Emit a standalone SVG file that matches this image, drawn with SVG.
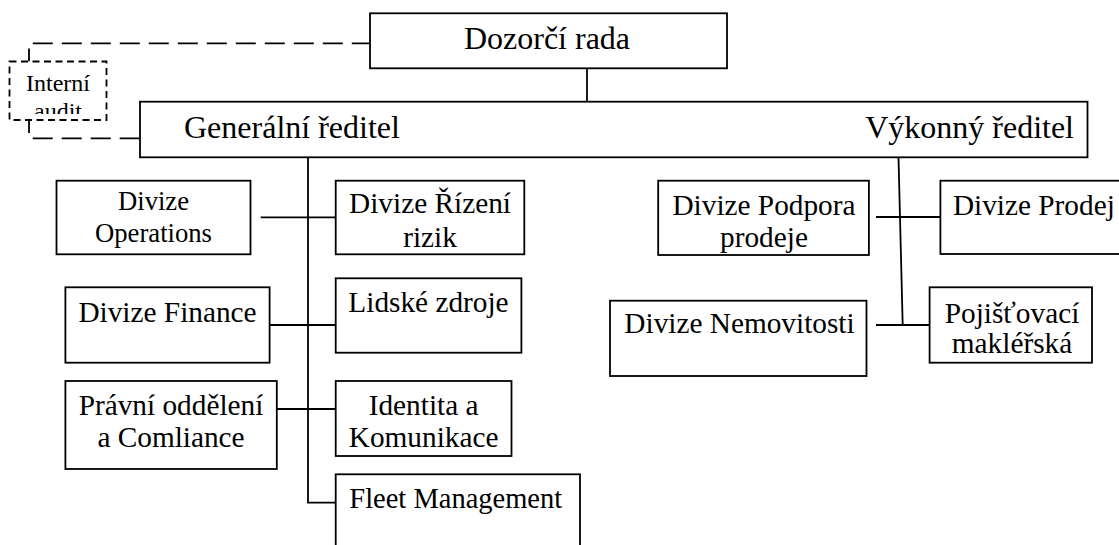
<svg xmlns="http://www.w3.org/2000/svg" width="1119" height="545" viewBox="0 0 1119 545">
<style>
.box{fill:#fff;stroke:#000;stroke-width:1.8}
.dbox{fill:#fff;stroke:#000;stroke-width:1.8;stroke-dasharray:7 4.5}
.ln{fill:none;stroke:#000;stroke-width:1.8}
.dln{fill:none;stroke:#000;stroke-width:1.8;stroke-dasharray:20 9;stroke-dashoffset:7}
text{font-family:"Liberation Serif","Times New Roman",serif;fill:#000}
.h{font-size:32px}
.t{font-size:29.3px}
.s{font-size:26.67px}
.a{font-size:24px}
.m{text-anchor:middle}
</style>
<defs>
<clipPath id="auditClip"><rect x="10" y="62" width="96" height="52"/></clipPath>
</defs>
<rect x="0" y="0" width="1119" height="545" fill="#fff"/>

<g id="connectors">
<path class="dln" d="M29,61.5 V43.3 H370"/>
<path class="dln" d="M29,120 V138.3 H140"/>
<path class="ln" d="M587,68.3 V101.7"/>
<path class="ln" d="M308,147 V502.7 H335.7"/>
<path class="ln" d="M260.7,217.3 H335.7"/>
<path class="ln" d="M260.7,325 H335.7"/>
<path class="ln" d="M262.5,409 H335.7"/>
<path class="ln" d="M898.5,157.3 L902.7,325"/>
<path class="ln" d="M876,217 H940.4"/>
<path class="ln" d="M876,325 H929.6"/>
</g>

<g id="dozorci-rada">
<rect class="box" x="370" y="13.3" width="357" height="55"/>
<text class="h m" x="547" y="49.3">Dozorčí rada</text>
</g>

<g id="interni-audit">
<rect class="dbox" x="9.5" y="61.5" width="97" height="58.5"/>
<g clip-path="url(#auditClip)">
<text class="a m" x="58" y="91">Interní</text>
<text class="a m" x="58" y="118.5">audit</text>
</g>
</g>

<g id="reditele">
<rect class="box" x="140" y="101.7" width="947.5" height="55.6"/>
<text class="h" x="184" y="138.3">Generální ředitel</text>
<text class="h" x="1074" y="138" text-anchor="end">Výkonný ředitel</text>
</g>

<g id="divize-operations">
<rect class="box" x="56.5" y="180.7" width="194" height="73.6"/>
<text class="s m" x="153.5" y="210">Divize</text>
<text class="s m" x="153.5" y="241.7">Operations</text>
</g>

<g id="divize-rizeni-rizik">
<rect class="box" x="335.7" y="180.7" width="188.6" height="73.6"/>
<text class="t m" x="430" y="213.3">Divize Řízení</text>
<text class="t m" x="430" y="247.3">rizik</text>
</g>

<g id="divize-finance">
<rect class="box" x="65.4" y="287.3" width="204.2" height="75.4"/>
<text class="t m" x="167.5" y="321.7">Divize Finance</text>
</g>

<g id="lidske-zdroje">
<rect class="box" x="335.7" y="278.3" width="185.7" height="74.4"/>
<text class="t m" x="428.5" y="311.7">Lidské zdroje</text>
</g>

<g id="pravni-oddeleni">
<rect class="box" x="65.4" y="381" width="211.4" height="88"/>
<text class="t m" x="171" y="415">Právní oddělení</text>
<text class="t m" x="171" y="447.3">a Comliance</text>
</g>

<g id="identita-komunikace">
<rect class="box" x="335.7" y="381" width="175.8" height="75"/>
<text class="t m" x="423.6" y="415">Identita a</text>
<text class="t m" x="423.6" y="447">Komunikace</text>
</g>

<g id="fleet-management">
<rect class="box" x="335.7" y="474.3" width="244.3" height="90"/>
<text class="t" x="349.3" y="508" style="font-size:28.5px">Fleet Management</text>
</g>

<g id="divize-podpora-prodeje">
<rect class="box" x="658.2" y="180.7" width="210.7" height="74.3"/>
<text class="t m" x="764" y="215">Divize Podpora</text>
<text class="t m" x="764" y="246.7">prodeje</text>
</g>

<g id="divize-prodej">
<rect class="box" x="940.4" y="180.7" width="200" height="73.3"/>
<text class="t" x="952.9" y="215">Divize Prodej</text>
</g>

<g id="divize-nemovitosti">
<rect class="box" x="610" y="300.7" width="256.5" height="75.3"/>
<text class="t m" x="739.5" y="333.3">Divize Nemovitosti</text>
</g>

<g id="pojistovaci-maklerska">
<rect class="box" x="929.6" y="287.3" width="162.4" height="75.4"/>
<text class="t m" x="1012" y="323.3">Pojišťovací</text>
<text class="t m" x="1012" y="353.3">makléřská</text>
</g>
</svg>
